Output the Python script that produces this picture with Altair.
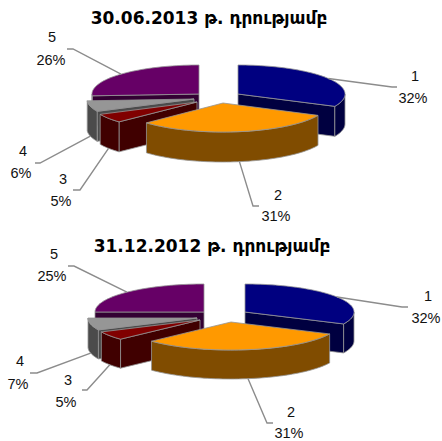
import math
import altair as alt

categories = ["1", "2", "3", "4", "5"]
shares_june = [32, 31, 5, 6, 26]
shares_december = [32, 31, 5, 7, 25]
titles = ["30.06.2013 թ. դրությամբ", "31.12.2012 թ. դրությամբ"]

top_colors = ["#000080", "#FF9900", "#800000", "#969696", "#660066"]
side_colors = ["#000040", "#804C00", "#400000", "#4B4B4B", "#330033"]
EDGE = "#969696"
PAINT_ORDER = [4, 0, 3, 2, 1]  # back slices first

# Pie layout: per-slice apex (exploded) and width, ellipse height, wall depth, label placement.
pies = [
    {
        "shares": shares_june, "title": titles[0], "title_xy": (209, 19),
        "rx": [107, 105, 107, 107, 107], "ry": 29, "depth": 30,
        "apex": [(238, 94), (223, 103), (197, 102), (194, 99), (199, 94)],
        "elbow": [(392, 87), (253, 206), (80, 190), (40, 163), (73, 49)],
        "tail": [(397, 87), (259, 206), (73, 190), (35, 163), (67, 49)],
        "name_xy": [(415, 77), (278, 196), (63, 180), (23, 152), (52, 38)],
        "pct_xy": [(413, 99), (276, 217), (61, 202), (21, 174), (51, 61)],
    },
    {
        "shares": shares_december, "title": titles[1], "title_xy": (212, 247),
        "rx": [109, 109, 109, 109, 109], "ry": 28, "depth": 29,
        "apex": [(245, 312), (231, 322), (200, 320), (197, 318), (204, 312)],
        "elbow": [(402, 307), (267, 423), (87, 390), (37, 373), (74, 266)],
        "tail": [(408, 307), (273, 423), (82, 390), (30, 373), (68, 266)],
        "name_xy": [(428, 297), (291, 413), (68, 381), (20, 362), (54, 255)],
        "pct_xy": [(426, 319), (289, 434), (66, 403), (18, 385), (52, 277)],
    },
]


def rim_point(apex, rx, ry, deg):
    a = math.radians(deg)
    return [apex[0] + rx * math.sin(a), apex[1] - ry * math.cos(a)]


def arc(apex, rx, ry, start, end):
    n = max(2, int(abs(end - start) / 2) + 1)
    return [rim_point(apex, rx, ry, start + (end - start) * i / (n - 1)) for i in range(n)]


def polygon(points, fill):
    ring = points + [points[0]]
    return {
        "type": "Feature",
        "properties": {"fill": fill},
        "geometry": {"type": "Polygon", "coordinates": [ring]},
    }


def wall(top_edge, depth, fill):
    lower = [[x, y + depth] for x, y in reversed(top_edge)]
    return polygon(top_edge + lower, fill)


features, leaders, texts = [], [], []

for pie in pies:
    ry, depth = pie["ry"], pie["depth"]
    edges = [0]
    for s in pie["shares"]:
        edges.append(edges[-1] + s * 3.6)
    for i in PAINT_ORDER:
        start, end, apex, rx = edges[i], edges[i + 1], pie["apex"][i], pie["rx"][i]
        # cut faces turned towards the viewer
        if 180 <= start < 360:
            features.append(wall([list(apex), rim_point(apex, rx, ry, start)], depth, side_colors[i]))
        if 0 < end <= 180:
            features.append(wall([list(apex), rim_point(apex, rx, ry, end)], depth, side_colors[i]))
        # outer wall, front half of the ellipse only
        lo, hi = max(start, 90), min(end, 270)
        if lo < hi:
            features.append(wall(arc(apex, rx, ry, lo, hi), depth, side_colors[i]))
        features.append(polygon([list(apex)] + arc(apex, rx, ry, start, end), top_colors[i]))

        # leader from the middle of the slice's rim out to its label
        mid = (start + end) / 2
        anchor = rim_point(apex, rx, ry, mid)
        if 90 < mid < 270:
            anchor[1] += depth
        leaders.append({
            "type": "Feature",
            "properties": {},
            "geometry": {"type": "LineString",
                         "coordinates": [anchor, list(pie["elbow"][i]), list(pie["tail"][i])]},
        })
        texts.append({"t": categories[i], "x": pie["name_xy"][i][0], "y": pie["name_xy"][i][1]})
        texts.append({"t": f"{pie['shares'][i]}%", "x": pie["pct_xy"][i][0], "y": pie["pct_xy"][i][1]})

projection = alt.Projection(type="identity", scale=1, translate=[0, 0])

faces = (
    alt.Chart(alt.Data(values=features))
    .mark_geoshape(strokeWidth=0.8, stroke=EDGE)
    .encode(fill=alt.Fill("properties.fill:N", scale=None))
    .project(**projection.to_dict())
)

lines = (
    alt.Chart(alt.Data(values=leaders))
    .mark_geoshape(filled=False, stroke="#8C8C8C", strokeWidth=1.4)
    .project(**projection.to_dict())
)

labels = (
    alt.Chart(alt.Data(values=texts))
    .mark_text(font="Liberation Sans", fontSize=14.5, color="#111111", align="center", baseline="middle")
    .encode(x=alt.X("x:Q", scale=None), y=alt.Y("y:Q", scale=None), text="t:N")
)

heads = (
    alt.Chart(alt.Data(values=[{"t": p["title"], "x": p["title_xy"][0], "y": p["title_xy"][1]} for p in pies]))
    .mark_text(font="DejaVu Sans", fontSize=17, fontWeight="bold", color="#000000", align="center", baseline="middle")
    .encode(x=alt.X("x:Q", scale=None), y=alt.Y("y:Q", scale=None), text="t:N")
)

chart = (
    alt.layer(faces, lines, labels, heads)
    .properties(width=442, height=441, padding=0, background="#FFFFFF",
                autosize=alt.AutoSizeParams(type="none"))
    .configure_view(stroke=None)
)

chart.save("out.html", embed_options={"renderer": "svg", "actions": False})
